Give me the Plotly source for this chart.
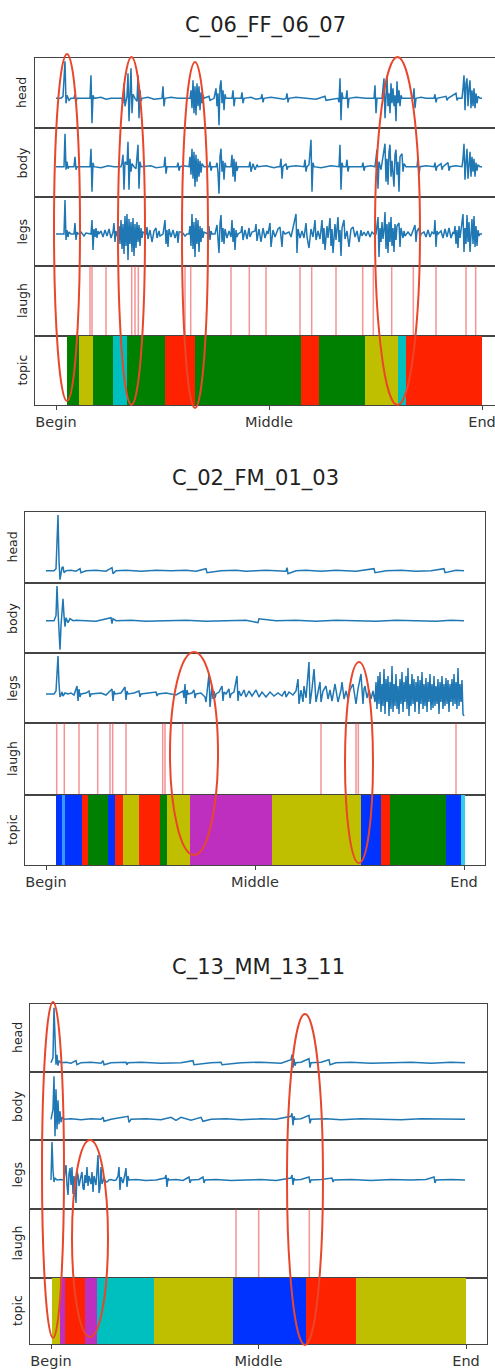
import plotly.graph_objects as go

# ---------------- data ----------------
TITLES = ["C_06_FF_06_07", "C_02_FM_01_03", "C_13_MM_13_11"]
ROW_LABELS = ["head", "body", "legs", "laugh", "topic"]
TICK_TEXT = ["Begin", "Middle", "End"]
DURATION = [426, 418, 415]  # time units from Begin to End for each recording

P1_HEAD = [(0,0),(5,0),(7,2),(9,37),(10,-5),(11,3),(13,-2),(15,0),(18,0),(19,4),(20,-4),(21,0),
 (34,0),(35,23),(36,-25),(37,3),(38,0),(45,1),(50,-1),(55,0),
 (66,0),(67,-5),(68,15),(69,-8),(71,2),(72,25),(73,-23),(74,10),(75,30),(76,-15),(77,4),(79,0),(81,-3),(82,23),(83,-20),(84,8),(85,-3),(86,0),
 (92,1),(98,-1),(106,0),(107,12),(108,-8),(109,0),(115,1),(122,0),
 (134,0),(135,8),(136,-10),(137,18),(138,-15),(139,12),(140,-17),(141,15),(142,-8),(143,12),(144,-12),(145,6),(146,-5),(147,3),(148,0),
 (153,2),(154,-2),(158,0),(159,6),(160,10),(161,-8),(162,5),(163,-27),(164,12),(165,18),(166,-5),(167,8),(168,-12),(169,4),(170,0),
 (176,0),(177,8),(178,-8),(179,0),(185,0),(186,6),(187,-5),(188,0),(195,1),(200,-1),(205,0),(206,4),(207,-4),(208,0),
 (215,1),(222,0),(228,-1),(230,0),(231,5),(232,-4),(233,0),(240,1),(250,0),(260,-1),(269,2),(270,-2),
 (282,0),(283,-4),(284,20),(285,-22),(286,6),(287,0),(290,0),(291,8),(292,-10),(293,0),(300,1),(310,0),
 (318,0),(319,13),(320,-15),(321,0),
 (326,0),(327,8),(328,20),(329,-20),(330,10),(331,22),(332,-8),(333,5),(334,-15),(335,15),(336,-5),(337,10),(338,-8),(339,3),(340,-23),(341,17),(342,-5),(343,8),(344,-8),(345,3),(346,0),
 (357,0),(358,10),(359,-10),(360,0),(365,1),(370,0),(378,0),(379,4),(380,-4),(381,0),(390,2),(391,-2),(392,0),(400,5),(401,-2),(402,0),
 (406,0),(407,10),(408,23),(409,-12),(410,15),(411,20),(412,-8),(413,10),(414,18),(415,-10),(416,8),(417,-8),(418,10),(419,-10),(420,5),(421,-5),(422,2),(424,0),(426,0)]

P1_BODY = [(0,0),(5,0),(8,0),(9,33),(10,-3),(11,5),(12,-2),(13,0),(18,0),(19,10),(20,-3),(21,0),
 (34,0),(35,18),(36,-25),(37,4),(38,0),(45,-1),(52,1),(58,0),
 (65,0),(66,4),(67,12),(68,-23),(69,5),(71,2),(72,25),(73,-23),(74,8),(75,-5),(76,3),(78,0),(80,-2),(82,22),(83,-22),(84,5),(85,0),
 (95,1),(100,-1),(108,0),(109,10),(110,-7),(111,0),(121,0),(122,4),(123,-4),(124,0),(128,1),
 (133,0),(134,10),(135,-8),(136,18),(137,-12),(138,15),(139,-20),(140,12),(141,-15),(142,8),(143,-10),(144,6),(145,-6),(146,3),(148,0),
 (153,0),(154,5),(155,-4),(156,0),
 (160,0),(161,4),(162,-6),(163,-27),(164,10),(165,18),(166,-5),(167,6),(168,-13),(169,4),(170,0),
 (175,0),(176,12),(177,-10),(178,8),(179,-15),(180,5),(181,-4),(182,0),
 (193,0),(194,5),(195,-5),(197,3),(199,-3),(201,2),(202,0),(210,1),(218,-1),(222,0),
 (224,0),(225,8),(226,-12),(227,0),(230,3),(231,-3),(232,0),(240,1),
 (248,0),(249,7),(250,-5),(251,0),(253,2),(255,27),(256,-25),(257,4),(258,0),(265,-1),(275,1),
 (283,0),(284,22),(285,-23),(286,4),(287,0),(290,0),(291,7),(292,-5),(293,0),(306,0),(307,4),(308,-4),(309,0),(315,1),
 (319,0),(320,10),(321,17),(322,-22),(323,5),(325,-3),(327,8),(329,23),(330,-15),(331,8),(332,-18),(333,15),(334,22),(335,-10),(336,6),(338,-20),(339,12),(340,17),(341,-8),(342,5),(343,-25),(344,10),(346,13),(347,-5),(348,3),(350,0),
 (361,0),(362,10),(363,-8),(364,0),(370,1),(378,0),(379,4),(380,-4),(381,0),(385,3),(386,-3),(387,0),(392,4),(393,-4),(394,0),(400,1),
 (406,0),(407,8),(408,23),(409,-13),(410,5),(411,18),(412,-12),(413,8),(414,15),(415,-10),(416,10),(417,-5),(418,8),(419,-10),(420,4),(421,-4),(422,2),(424,0),(426,0)]

P1_LEGS = [(0,0),(5,0),(8,0),(9,34),(10,-6),(11,4),(12,-3),(13,2),(15,0),(18,0),(19,11),(20,-6),(21,2),(22,0),
 (25,2),(28,-2),(30,1),(35,0),(36,14),(37,-16),(38,5),(39,-3),(40,6),(41,-4),(42,3),(43,0),
 (45,3),(47,-3),(49,4),(51,-2),(53,5),(55,-4),(57,2),(58,11),(59,-8),(60,3),(61,-2),
 (62,0),(63,8),(64,-10),(65,14),(66,-15),(67,10),(68,-20),(69,18),(70,-12),(71,20),(72,-26),(73,15),(74,-10),(75,12),(76,-18),(77,16),(78,-22),(79,10),(80,-14),(81,12),(82,-8),(83,9),(84,-12),(85,6),(86,-4),(87,2),
 (90,0),(91,7),(92,-5),(94,4),(96,-8),(98,3),(100,6),(101,-4),(103,3),(104,-2),
 (107,0),(108,6),(109,14),(110,-10),(111,4),(112,-13),(113,5),(115,-3),(117,4),(119,-4),(121,3),(122,-9),(123,2),
 (126,2),(129,-2),(131,0),
 (133,0),(134,8),(135,-12),(136,20),(137,-15),(138,12),(139,-23),(140,16),(141,-10),(142,14),(143,-18),(144,8),(145,-8),(146,6),(147,-4),(148,2),
 (152,0),(153,8),(154,-6),(155,3),(156,0),
 (159,0),(160,4),(161,9),(162,-5),(163,-19),(164,10),(165,19),(166,-8),(167,6),(168,-10),(169,5),(171,-4),(173,3),(175,-3),(176,14),(177,-8),(178,6),(179,-16),(180,4),(181,-3),(182,0),
 (185,2),(186,8),(187,-6),(189,4),(191,-5),(193,6),(194,-3),(196,2),
 (199,3),(200,10),(201,-7),(203,5),(205,-8),(207,6),(209,-4),(211,3),(212,0),
 (214,11),(215,-13),(217,4),(219,-3),(222,5),(224,7),(226,-13),(227,3),(229,0),
 (233,2),(235,-3),(237,6),(240,20),(241,-19),(242,5),(244,-4),(246,3),
 (248,-4),(250,11),(251,-3),(253,-14),(255,5),(257,-3),(259,14),(260,-6),(262,3),
 (264,-5),(266,14),(267,-10),(268,6),(269,-16),(271,8),(272,-4),(274,16),(275,-12),(276,5),(277,-19),(279,10),(280,-6),(282,17),(283,-8),
 (284,4),(285,-22),(286,6),(288,14),(289,-5),(291,3),(293,-13),(295,5),(297,7),(299,-3),(301,3),(303,-8),(305,4),(306,-2),
 (308,2),(310,-2),(312,3),(314,-3),(316,2),(318,0),
 (320,0),(321,10),(322,17),(323,-23),(324,6),(325,-8),(326,12),(327,-5),(328,4),(329,22),(330,-15),(331,10),(332,-19),(333,12),(334,-8),(335,17),(336,-12),(337,6),(338,-18),(339,10),(340,-6),(341,8),(343,11),(344,-13),(345,6),(347,-4),(348,3),(349,-2),
 (352,2),(355,-2),(359,9),(360,-8),(361,3),(363,6),(364,-4),(365,0),
 (368,2),(370,-3),(372,4),(374,-3),(376,2),(378,0),(379,14),(380,-13),(381,3),(382,0),
 (385,3),(387,-4),(389,5),(391,-3),(393,6),(395,-4),(397,2),
 (398,0),(399,8),(400,-10),(401,4),(402,-14),(403,8),(404,-4),(406,10),(407,20),(408,-18),(409,6),(410,-10),(411,19),(412,-8),(413,12),(414,-18),(415,6),(416,15),(417,-10),(418,18),(419,-13),(420,8),(421,-12),(422,4),(423,-2),(424,0),(426,0)]

P2_HEAD = [(0,0),(8,0),(10,2),(11,30),(12,55.7),(13,10),(14,-9),(15,-3),(16,3),(17,4),(18,-2),(20,0),(25,0.5),(30,-0.5),(34,2),(35,-2),(40,0),(50,0.5),(60,-0.5),(66,3),(67,-3),(70,0),(80,0.5),(95,-0.5),(110,0.5),(125,0),(140,0.5),(150,-0.5),(160,2),(161,-2),(175,0),(190,0.5),(200,-0.5),(210,0),(220,0.5),(240,-0.5),(241,3),(242,-3),(250,0),(260,0.5),(275,-0.5),(290,0.5),(300,0),(310,-0.5),(328,2),(329,-2),(340,0),(355,0.5),(370,-0.5),(385,0),(398,2),(399,-2),(410,0.5),(418,0)]

P2_BODY = [(0,0),(8,0),(10,5),(11,34.7),(12,10),(13,-5),(14,-29),(15,-5),(16,8),(17,22),(18,5),(19,-6),(20,3),(22,-2),(24,2),(27,0),(30,0.5),(40,0),(50,-0.5),(65,3),(66,-3),(67,2),(70,0),(85,0.5),(100,-0.5),(120,0),(140,0.5),(160,-0.5),(180,0),(200,0.5),(212,-2),(213,2),(230,0),(250,0.5),(270,-0.5),(290,0.5),(310,0),(330,-0.5),(350,0.5),(370,0),(390,-0.5),(405,0.5),(418,0)]

P2_LEGS = [(0,0),(8,0),(10,3),(11,20),(12,38),(13,10),(14,-3),(15,-1),(16,2),(17,-2),(19,1),(22,0),(25,1),(28,-1),(31,8),(32,-7),(33,5),(34,-3),(35,0),(40,1),(43,3),(44,-3),(45,0),(55,1),(60,-1),(66,5),(67,-7),(68,3),(69,0),(75,1),(79,7),(80,-6),(81,3),(82,0),(88,1),(93,3),(94,-3),(95,0),(102,1),(110,2),(111,-2),(112,0),(120,1),(130,-1),(137,3),(138,-4),(139,10),(140,-10),(141,4),(142,0),(146,1),(148,4),(149,-4),(150,0),(155,1),(159,-3),(160,-8),(161,4),(163,20),(164,-13),(165,3),(166,8),(167,-5),(168,3),(169,-4),(170,0),(173,2),(176,8),(177,-7),(178,2),(180,0),(183,5),(184,-4),(185,0),(188,2),(191,18),(192,-7),(193,3),(195,-2),(198,4),(200,-3),(203,3),(206,-2),(210,4),(213,-3),(216,2),(220,-3),(224,2),(228,-2),(232,1),(236,-2),(239,3),(240,-3),(243,2),(247,-1),(250,3),(252,15),(253,-10),(255,4),(257,-8),(258,8),(260,-4),(263,32),(264,-10),(266,5),(268,25),(270,-8),(272,4),(274,12),(275,-8),(277,3),(280,8),(282,-5),(284,4),(286,-7),(289,10),(292,-8),(295,4),(296,12),(298,-5),(300,3),(302,-5),(304,4),(307,10),(310,-10),(312,5),(315,20),(317,-10),(318,5),(319,8),(321,-4),(323,4),(325,-5),(327,3),
 (329,-8),(330,12),(331,-15),(332,18),(333,-10),(334,22),(335,-18),(336,10),(337,-12),(338,25),(339,-20),(340,15),(341,-8),(342,18),(343,-22),(344,12),(345,-15),(346,28),(347,-18),(348,10),(349,-12),(350,20),(351,-15),(352,8),(353,-20),(354,15),(355,-10),(356,22),(357,-18),(358,12),(359,-8),(360,18),(361,-15),(362,26),(363,-22),(364,10),(365,-12),(366,20),(367,-10),(368,15),(369,-18),(370,12),(371,-8),(372,18),(373,-20),(374,14),(375,-10),(376,22),(377,-15),(378,10),(379,-12),(380,16),(381,-18),(382,12),(383,-8),(384,20),(385,-16),(386,10),(387,-14),(388,18),(389,-12),(390,8),(391,-10),(392,15),(393,-20),(394,12),(395,-8),(396,18),(397,-15),(398,10),(399,-12),(400,16),(401,-10),(402,14),(403,-18),(404,10),(405,-8),(406,15),(407,-12),(408,20),(409,-10),(410,12),(411,-15),(412,26),(413,-12),(414,10),(415,-8),(416,14),(417,-20),(418,-22)]

P3_HEAD = [(0,0),(2,5),(3,55),(4,20),(5,-2),(6,8),(7,-3),(8,2),(10,0),(15,0.5),(20,-0.5),(25,2),(26,-2),(30,0),(40,0.5),(50,-0.5),(52,2),(53,-2),(60,0),(75,0.5),(76,-2),(77,0),(90,0.5),(110,-0.5),(130,0),(142,2),(143,-2),(160,0),(170,0.5),(171,-2),(190,0),(210,0.5),(230,-0.5),(240,3),(241,8),(242,-5),(243,4),(244,-3),(245,0),(250,0.5),(258,4),(259,-5),(260,0),(270,0.5),(278,3),(279,-2),(285,0),(300,0.5),(320,-0.5),(340,0),(360,0.5),(380,-0.5),(400,0.5),(414,0)]

P3_BODY = [(0,0),(2,10),(3,43),(4,-17),(5,30),(6,-10),(7,19),(8,-5),(9,8),(10,-3),(11,2),(13,0),(20,0.5),(30,-0.5),(40,0.5),(50,0),(52,2),(53,-2),(60,0),(77,3),(78,-3),(80,0),(95,0.5),(110,-0.5),(120,2),(125,-1),(130,2),(140,-1),(150,2),(152,-2),(160,0),(175,0.5),(190,-0.5),(210,0.5),(225,0),(240,3),(241,6),(242,-6),(243,3),(244,0),(250,0.5),(258,4),(259,-4),(260,0),(275,0.5),(290,-0.5),(310,0.5),(330,0),(350,-0.5),(370,0.5),(390,0),(414,0)]

P3_LEGS = [(0,0),(1,38),(2,10),(3,-2),(4,2),(6,0),(10,0.5),(13,0),(14,8),(15,15),(16,-5),(17,-15),(18,6),(19,12),(20,-5),(21,13),(22,-14),(23,4),(25,-23),(26,8),(27,5),(28,-6),(30,4),(31,8),(32,-8),(33,-10),(34,5),(35,-3),(36,13),(37,-6),(38,4),(40,-4),(41,8),(42,-12),(43,4),(45,-5),(46,10),(47,25),(48,-13),(49,-8),(50,13),(51,-4),(53,2),(55,-2),(56,-2),(58,0),(60,0.5),(63,-0.5),(65,0),(67,4),(68,13),(69,-10),(70,3),(72,-3),(74,6),(75,12),(76,-7),(77,4),(78,0),(85,0.5),(95,-0.5),(105,0),(114,2),(115,5),(116,-7),(117,2),(118,0),(125,0.5),(132,-0.5),(138,3),(139,-3),(140,0),(148,0.5),(151,2),(152,3),(153,-3),(154,0),(165,0.5),(180,-0.5),(195,0),(210,0.5),(225,-0.5),(240,2),(241,5),(242,-5),(243,2),(244,0),(250,0.5),(258,3),(259,-3),(260,0),(270,0.5),(281,2),(282,-2),(283,0),(300,0.5),(320,-0.5),(340,0.5),(360,0),(375,0.5),(383,3),(384,-3),(385,0),(400,0.5),(414,0)]

P1_LAUGH = [34, 36, 50, 75.7, 79, 82.3, 129, 134.7, 175, 193.3, 210, 244, 255.7, 280, 306.7, 317.3, 335.7, 357.3, 380, 410, 419.7]
P2_LAUGH = [10.7, 18.3, 33, 51.7, 64, 66.7, 80, 116.7, 119, 136.7, 275, 310, 312.3, 410]
P3_LAUGH = [185, 207.7, 258.3]

P1_TOPIC_EDGES = [10.7, 23.3, 37.3, 56.7, 70.7, 109, 139, 244.7, 263.3, 309, 342.3, 350, 425.7]
P1_TOPIC = ["green", "yellow", "green", "cyan", "green", "red", "green", "red", "green", "yellow", "cyan", "red"]
P2_TOPIC_EDGES = [10, 15.7, 19, 35.7, 42.3, 61.7, 69, 77.3, 93.3, 114, 121.3, 144, 226.3, 315, 335, 344, 399.7, 415, 419]
P2_TOPIC = ["blue", "lightblue", "blue", "red", "green", "blue", "red", "yellow", "red", "green", "yellow",
            "magenta", "yellow", "blue", "red", "green", "blue", "lightcyan"]
P3_TOPIC_EDGES = [0.7, 9, 14, 34, 45.7, 103.3, 181.7, 255, 305, 415]
P3_TOPIC = ["yellow", "magenta", "red", "magenta", "cyan", "yellow", "blue", "red", "yellow"]

# highlighted regions (time start, time end) and vertical extent (pixel rows)
P1_MARKS = [(-2, 24, 54, 401), (62, 89, 57, 405), (126, 152, 62, 408), (319, 364, 57, 405)]
P2_MARKS = [(124, 172, 652, 855), (299, 327, 662, 863)]
P3_MARKS = [(-9, 13, 1002, 1338), (21, 57, 1140, 1337), (236, 272, 1014, 1345)]

# ---------------- style / layout ----------------
W, H = 495, 1369
TOPIC_COLORS = {"green": "#008000", "yellow": "#bfbf00", "cyan": "#00bfbf", "red": "#ff2200",
                "blue": "#0033ff", "magenta": "#bf2fbf", "lightblue": "#3399ff", "lightcyan": "#33ccee"}
LINE_BLUE = "#1f77b4"
FONT = "DejaVu Sans"

PANELS = [
    dict(title=TITLES[0], dur=DURATION[0], sig=[P1_HEAD, P1_BODY, P1_LEGS], laugh=P1_LAUGH,
         edges=P1_TOPIC_EDGES, topics=P1_TOPIC, marks=P1_MARKS,
         frame=(35, 495), xr=(-21, 439), rows=[58, 128, 197, 266, 336, 405],
         yr=[(-29.7, 40.3), (-30.3, 38.7), (-32, 37)], title_py=25),
    dict(title=TITLES[1], dur=DURATION[1], sig=[P2_HEAD, P2_BODY, P2_LEGS], laugh=P2_LAUGH,
         edges=P2_TOPIC_EDGES, topics=P2_TOPIC, marks=P2_MARKS,
         frame=(25, 485), xr=(-21, 439), rows=[512, 583, 653, 723, 795, 865],
         yr=[(-12.3, 58.7), (-32.3, 37.7), (-29, 41)], title_py=478),
    dict(title=TITLES[2], dur=DURATION[2], sig=[P3_HEAD, P3_BODY, P3_LEGS], laugh=P3_LAUGH,
         edges=P3_TOPIC_EDGES, topics=P3_TOPIC, marks=P3_MARKS,
         frame=(30, 487), xr=(-21, 436), rows=[1004, 1072, 1140, 1209, 1278, 1344],
         yr=[(-9.3, 58.7), (-20.7, 47.3), (-29, 40)], title_py=967),
]

def ypaper(py):
    return 1 - py / H

fig = go.Figure()
layout = dict(width=W, height=H, margin=dict(l=0, r=0, t=0, b=0), showlegend=False,
              paper_bgcolor="white", plot_bgcolor="white", font=dict(family=FONT, color="#222"))
annotations = []
shapes = []

for p, P in enumerate(PANELS):
    fl, fr = P["frame"]
    for r in range(5):
        idx = p * 5 + r + 1
        xa = "xaxis" if idx == 1 else f"xaxis{idx}"
        ya = "yaxis" if idx == 1 else f"yaxis{idx}"
        xn = "x" if idx == 1 else f"x{idx}"
        yn = "y" if idx == 1 else f"y{idx}"
        top, bot = P["rows"][r], P["rows"][r + 1]
        bottom_row = (r == 4)
        layout[xa] = dict(domain=[fl / W, fr / W], range=list(P["xr"]), anchor=yn,
                          showline=True, mirror=True, linecolor="#444", linewidth=1,
                          showgrid=False, zeroline=False,
                          tickvals=[0, P["dur"] / 2, P["dur"]] if bottom_row else [],
                          ticktext=TICK_TEXT if bottom_row else [],
                          showticklabels=bottom_row, ticks="outside" if bottom_row else "",
                          ticklen=4, tickcolor="#444", ticklabeloverflow="allow",
                          tickfont=dict(family=FONT, size=14.5, color="#333"))
        if r < 3:
            yrange = list(P["yr"][r])
        else:
            yrange = [0, 1]
        layout[ya] = dict(domain=[ypaper(bot), ypaper(top)], range=yrange, anchor=xn,
                          showline=True, mirror=True, linecolor="#444", linewidth=1,
                          showgrid=False, zeroline=False, showticklabels=False, ticks="")
        if r < 3:
            pts = P["sig"][r]
            fig.add_trace(go.Scatter(x=[a for a, b in pts], y=[b for a, b in pts], mode="lines",
                                     line=dict(color=LINE_BLUE, width=1.5), xaxis=xn, yaxis=yn,
                                     hoverinfo="skip"))
        elif r == 3:
            lx, ly = [], []
            for t in P["laugh"]:
                lx += [t, t, None]
                ly += [0, 1, None]
            fig.add_trace(go.Scatter(x=lx, y=ly, mode="lines",
                                     line=dict(color="rgba(235,60,60,0.55)", width=1.5),
                                     xaxis=xn, yaxis=yn, hoverinfo="skip"))
        else:
            e = P["edges"]
            centers = [(e[i] + e[i + 1]) / 2 for i in range(len(e) - 1)]
            widths = [e[i + 1] - e[i] for i in range(len(e) - 1)]
            fig.add_trace(go.Bar(x=centers, y=[1] * len(centers), width=widths,
                                 marker=dict(color=[TOPIC_COLORS[c] for c in P["topics"]], line=dict(width=0)),
                                 xaxis=xn, yaxis=yn, hoverinfo="skip"))
        annotations.append(dict(text=ROW_LABELS[r], x=(fl - 13) / W, y=ypaper((top + bot) / 2),
                                xref="paper", yref="paper", showarrow=False, textangle=-90,
                                xanchor="center", yanchor="middle",
                                font=dict(family=FONT, size=12.5, color="#222")))
    annotations.append(dict(text=P["title"], x=(P["xr"][0] + P["xr"][1]) / 2, xref=f"x{p*5+5}",
                            y=ypaper(P["title_py"]), yref="paper", showarrow=False,
                            xanchor="center", yanchor="middle",
                            font=dict(family=FONT, size=21, color="#222")))
    for (t0, t1, py0, py1) in P["marks"]:
        shapes.append(dict(type="circle", xref=f"x{p*5+5}", yref="paper",
                           x0=t0, x1=t1, y0=ypaper(py1), y1=ypaper(py0),
                           line=dict(color="#e8472c", width=2), layer="above"))

layout["annotations"] = annotations
layout["shapes"] = shapes
layout["bargap"] = 0
fig.update_layout(**layout)
fig.write_html("out.html", config={"displayModeBar": False},
               post_script="document.body.style.margin='0px';document.body.style.overflow='hidden';")
